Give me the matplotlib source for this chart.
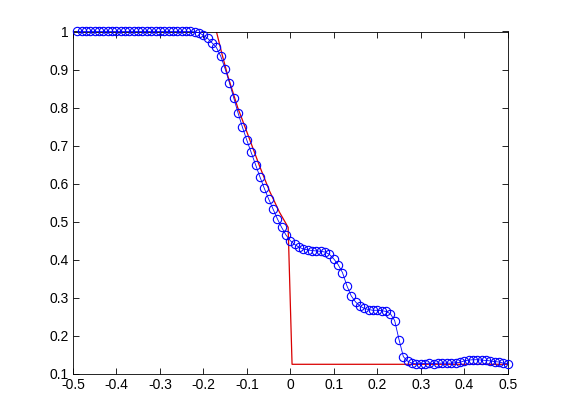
import matplotlib
matplotlib.use("Agg")
import matplotlib.pyplot as plt
import numpy as np

# numerical solution, cell positions -0.49 .. 0.50
x_num = [round(-0.49 + 0.01 * i, 2) for i in range(100)]
rho_num = ([1.0] * 27 +
           [0.999, 0.997, 0.99, 0.982, 0.97, 0.958, 0.935, 0.902, 0.865, 0.825,
            0.785, 0.748, 0.714, 0.682, 0.65, 0.618, 0.588, 0.56, 0.534, 0.508,
            0.485, 0.465, 0.45, 0.44, 0.433, 0.428, 0.426, 0.424, 0.423, 0.422,
            0.42, 0.414, 0.402, 0.387, 0.366, 0.332, 0.305, 0.289, 0.278, 0.272,
            0.269, 0.267, 0.267, 0.266, 0.264, 0.258, 0.24, 0.19, 0.145, 0.133,
            0.128, 0.126, 0.127, 0.127, 0.128, 0.127, 0.128, 0.128, 0.128, 0.128,
            0.129, 0.130, 0.134, 0.136, 0.137, 0.137, 0.136, 0.135, 0.134, 0.132,
            0.131, 0.128, 0.127])

# reference (red) curve
x_ref = [-0.5, -0.17, -0.157, -0.144, -0.121, -0.098, -0.071, -0.048, -0.025,
         -0.005, 0.004, 0.5]
rho_ref = [1.0, 1.0, 0.94, 0.884, 0.80, 0.73, 0.647, 0.581, 0.525,
           0.485, 0.125, 0.125]

xticks = [-0.5, -0.4, -0.3, -0.2, -0.1, 0, 0.1, 0.2, 0.3, 0.4, 0.5]
xtick_labels = ["-0.5", "-0.4", "-0.3", "-0.2", "-0.1", "0", "0.1", "0.2", "0.3", "0.4", "0.5"]
yticks = [0.1, 0.2, 0.3, 0.4, 0.5, 0.6, 0.7, 0.8, 0.9, 1]
ytick_labels = ["0.1", "0.2", "0.3", "0.4", "0.5", "0.6", "0.7", "0.8", "0.9", "1"]

plt.rcParams['font.family'] = ['Liberation Sans', 'DejaVu Sans']

fig = plt.figure(figsize=(5.61, 4.2), dpi=100, facecolor='white')
ax = fig.add_axes([0.13, 0.11, 0.775, 0.815])

ax.plot(x_num, rho_num, '-o', color=(0, 0, 1), markerfacecolor='none',
        markersize=6, linewidth=0.6, markeredgewidth=0.8, clip_on=False, zorder=3)
ax.plot(x_ref, rho_ref, '-', color=(0.85, 0, 0), linewidth=0.9, zorder=2)

ax.set_xlim(-0.5, 0.5)
ax.set_ylim(0.1, 1)
ax.set_xticks(xticks)
ax.set_xticklabels(xtick_labels)
ax.set_yticks(yticks)
ax.set_yticklabels(ytick_labels)
ax.tick_params(direction='in', length=4, width=0.6, top=True, right=True,
               labelsize=10, colors='black', pad=3)
for s in ax.spines.values():
    s.set_linewidth(0.6)

fig.savefig("out.png", dpi=100, facecolor='white')
